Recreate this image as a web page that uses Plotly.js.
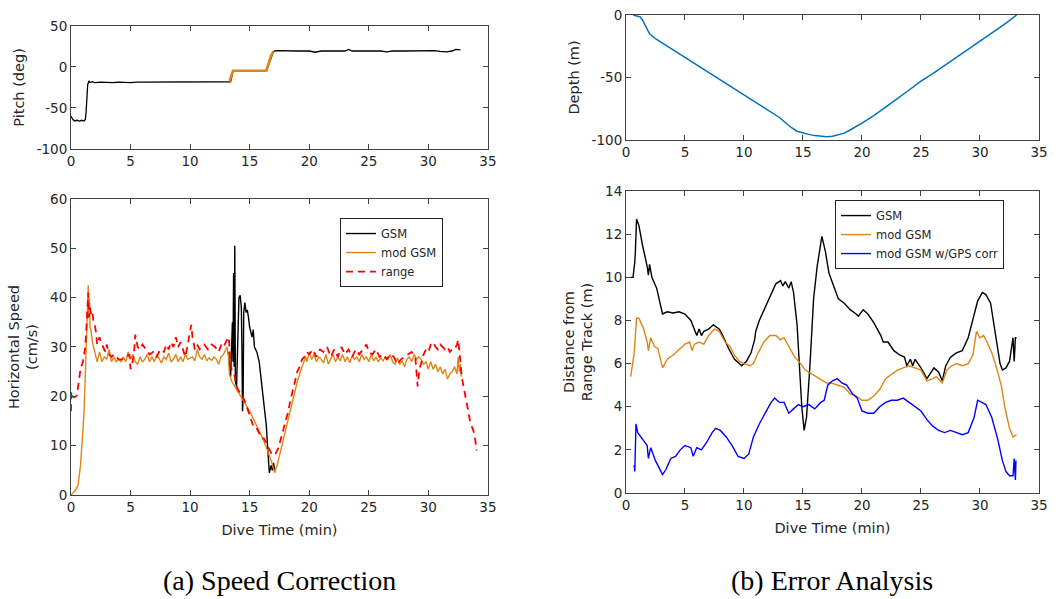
<!DOCTYPE html>
<html><head><meta charset="utf-8">
<script src="https://cdn.plot.ly/plotly-3.0.1.min.js"></script>
<style>html,body{margin:0;padding:0;background:#fff}#chart{width:1064px;height:599px}</style>
</head><body><div id="chart"></div>
<script>
// ---------- Pitch (top-left) ----------
const pitchT = [0,0.15,0.3,0.5,0.7,0.9,1.1,1.2,1.27,1.33,1.4,1.5,1.6,1.8,2.0,2.5,3,3.5,4,4.5,5,5.5,6,7,8,9,10,11,12,13,13.4,13.5,13.6,14,15,16,16.4,16.6,16.8,17.0,17.2,18,19,20,20.5,21,22,23,23.3,23.6,24,25,26,26.5,27,28,29,29.5,30,30.5,31,31.5,32,32.3,32.7];
const pitchGSM = [-60,-64,-66,-65,-66,-65,-66,-64,-55,-35,-22,-17,-19,-18,-19,-18.5,-19,-19,-18.5,-19,-19,-18.5,-18.5,-18.5,-18.5,-18.5,-18.5,-18.5,-18.5,-18.5,-18,-12,-5,-5,-5,-5,-5,3,12,19,20,19.5,19.5,19.5,18,19.5,19.5,19.5,21.5,19.5,19.5,19.5,19.5,18.5,19.5,19.5,19.5,19.5,19.5,20,19,18.5,19.5,21.5,21];
const pitchModT = [13.3,13.45,13.6,14,15,16,16.4,16.6,16.8,17.0];
const pitchMod = [-18,-10,-4.5,-4.5,-4.5,-4.5,-4.5,5,14,19];
const pitchTicks = [-100,-50,0,50];
const pitchTickText = ['-100','-50','0','50'];

// ---------- Horizontal speed (bottom-left) ----------
const spdModT = [0,0.2,0.4,0.6,0.8,1.0,1.1,1.2,1.3,1.4,1.45,1.5,1.55,1.6,1.7,1.8,1.9,
 2.0,2.2,2.4,2.6,2.8,3.0,3.2,3.4,3.6,3.8,4.0,4.2,4.4,4.6,4.8,5.0,5.2,5.4,5.6,5.8,6.0,6.2,6.4,6.6,6.8,7.0,7.2,7.4,7.6,7.8,8.0,8.2,8.4,8.6,8.8,9.0,9.2,9.4,9.6,9.8,10.0,10.2,10.4,10.6,10.8,11.0,11.2,11.4,11.6,11.8,12.0,12.2,12.4,12.6,12.8,13.0,
 13.1,13.2,13.3,13.5,14,14.5,15,15.5,16,16.5,16.8,17.1,17.3,17.6,18,18.5,19,19.4,19.7,
 19.8,20.0,20.2,20.4,20.6,20.8,21.0,21.2,21.4,21.6,21.8,22.0,22.2,22.4,22.6,22.8,23.0,23.2,23.4,23.6,23.8,24.0,24.2,24.4,24.6,24.8,25.0,25.2,25.4,25.6,25.8,26.0,26.2,26.4,26.6,26.8,27.0,27.2,27.4,27.6,27.8,28.0,28.2,28.4,28.6,28.8,29.0,29.2,29.4,29.6,29.8,30.0,30.2,30.4,30.6,30.8,31.0,31.2,31.4,31.6,31.8,32.0,32.2,32.4,32.5,32.6,32.7,32.75];
const spdMod = [0,0.5,1,2,6,13,17,24,30,38,42.5,36,40,34,33,31,30,
 28.5,27,29,27,28,27.5,29.5,27,28,27,27.5,27,28,27,29,27.5,28.5,27,26.5,28,27,27.5,28.5,27,28,27,28.5,27.5,26.8,28,27.5,28.8,27,27.5,28.5,27,28,27,28.5,27.5,27.8,28,27.2,29.5,28,27.5,28.5,27.2,27.8,27.3,28,27.5,26.5,28,28.5,29.5,
 30,28.5,24.5,23,21,19,17,14.5,12,9,7,4.5,6,9,13,18,23,26,28,
 27,29,27.5,28.5,27,28,27.5,26.8,28.5,26.5,27.5,28.5,27,28,27.2,28.5,27,28,26.8,28.2,27.5,28,27,28.5,27.5,28,27,28.5,27.2,28,27,27.8,27.2,28,27.5,28.5,27,26.5,27.8,26.5,27.2,26,27.5,28,27,28.5,27.5,28,27.5,26.5,27,25.5,27,25.5,26.5,25,26,24.5,25.5,23.5,24.5,25,26,24.5,28,25,26.5,24];
const spdGsmT = [13.2,13.4,13.55,13.6,13.65,13.7,13.75,13.8,13.9,14.0,14.1,14.2,14.3,14.35,14.4,14.45,14.5,14.6,14.7,14.8,14.9,15.0,15.2,15.3,15.4,15.6,15.8,16.0,16.2,16.4,16.5,16.6,16.65,16.8,16.9,17.0,17.1];
const spdGsm = [29,24,35,27,45,26,50.5,23,22,35,40,40.5,38,30,17,20,37,39,37,37.5,36,34,32,33.5,30,29,27,23,19,14,10,5,4.5,6,5,6.5,5];
const spdRangeT = [0,0.03,0.1,0.3,0.5,0.6,0.8,1.0,1.1,1.2,1.3,1.4,1.45,1.5,1.6,1.7,1.8,1.9,2.0,2.1,2.2,2.4,2.5,2.7,2.9,3.0,3.2,3.4,3.6,3.8,4.0,4.3,4.6,4.9,5.0,5.1,5.3,5.4,5.6,5.8,6.0,6.3,6.6,6.9,7.2,7.5,7.8,8.0,8.2,8.4,8.6,8.8,9.0,9.2,9.4,9.6,9.8,10.0,10.1,10.2,10.4,10.6,10.8,11.0,11.2,11.5,11.8,12.1,12.4,12.7,12.9,13.1,13.25,13.35,13.5,13.7,13.9,14.1,14.3,14.6,14.9,15.1,15.3,15.5,15.8,16.0,16.2,16.4,16.6,16.8,17.0,17.2,17.4,17.6,17.8,18.0,18.2,18.4,18.6,18.8,19.0,19.2,19.4,19.6,19.8,20.0,20.3,20.6,20.9,21.2,21.5,21.8,22.1,22.4,22.7,23.0,23.3,23.6,23.9,24.2,24.5,24.8,25.0,25.3,25.6,25.9,26.2,26.5,26.8,27.1,27.4,27.7,28.0,28.3,28.6,28.9,29.0,29.1,29.25,29.4,29.6,29.8,30.0,30.2,30.4,30.6,30.8,31.0,31.2,31.4,31.6,31.8,32.0,32.2,32.4,32.5,32.65,32.8,32.95,33.1,33.3,33.5,33.7,33.85,34.0,34.05];
const spdRange = [17,21,20,19.8,20.2,22,25.5,27,29,30,34,39,41,36,38,36.5,37,35,34.5,33,30.5,32,31,30,29,30.5,28.5,28,28.5,28,27.5,27.5,28,28.5,25.5,26,29,32.5,30,29.5,30.5,29.5,28.5,29,28,29.5,29,30.5,29.5,31,30,32,30,31,29.5,28,30.5,33,34.5,32,29.5,30.5,29.5,30,30.5,29.5,30.5,30,29,31,30.5,31.5,32,28,25,24.5,22,21,20.5,19,17,15.5,14,14,12.5,11.5,11.5,10.5,9.5,8.5,8,8.5,9.5,11,13,15,16.5,19,21,23,25,26,27.5,28,29,28.5,29.5,28,29.5,29,30,28,29.5,28,30,28.5,29.5,28,29.5,28.5,29.5,30.5,29,28.5,29.5,28,28.5,27.5,28.5,28,26.5,27.5,28,28.5,29,28,24,22,25.5,27,28.5,29.5,29,30.5,31,30,29.5,30.5,30,29.5,30,29,29.5,29.5,30.5,31.5,28,24,22,20,17,15,13.5,12.5,10,9];

// ---------- Depth (top-right) ----------
const depthT = [0.6,0.8,1.0,1.2,1.4,1.6,1.8,2.0,2.5,3,4,5,6,7,8,9,10,11,12,13,13.5,14,14.5,15,15.5,16,16.5,17,17.5,18,18.5,19,19.5,20,21,22,23,24,25,26,27,28,29,30,31,32,32.5,33.1];
const depth = [0,-0.5,-1,-1.5,-4,-8,-12,-15,-19,-22,-28,-34,-40,-46,-52,-58,-64,-70,-76,-82,-86,-90,-93,-94.5,-95.5,-96.5,-97,-97.5,-97,-96,-94.5,-92,-89.5,-86.5,-80.5,-74,-67,-60,-53,-47,-40.5,-34,-28,-21.5,-15,-8,-4.5,0];
const depthTicks = [-100,-50,0];
const depthTickText = ['-100','-50','0'];

// ---------- Distance from range track (bottom-right) ----------
const distGsmT = [0.4,0.6,0.7,0.75,0.8,0.9,1.1,1.4,1.8,1.9,2.0,2.1,2.2,2.6,2.9,3.1,3.5,4,4.5,5,5.5,5.9,6.0,6.2,6.4,6.6,7.0,7.2,7.4,7.9,8.2,8.7,9.2,9.6,9.8,10.2,10.6,10.9,11.0,11.3,11.8,12.3,12.7,13.1,13.3,13.5,13.8,14.0,14.2,14.5,14.7,14.9,15.1,15.3,15.6,15.9,16.2,16.6,16.9,17.2,17.6,18,18.5,19,19.5,19.7,20.1,20.5,21,21.6,21.8,22.2,22.7,23.2,23.6,23.8,24.1,24.3,24.5,25,25.5,25.9,26.1,26.5,26.8,27.1,27.5,28,28.5,29,29.4,29.8,30.2,30.5,30.9,31.3,31.7,31.9,32.2,32.5,32.8,32.9,33.0,33.1];
const distGsm = [10,10,10.5,10.7,11.2,12.7,12.4,11.5,10.5,10.1,10.6,10.2,10,9.5,8.8,8.3,8.4,8.35,8.4,8.3,8.0,7.5,7.3,7.6,7.3,7.5,7.6,7.7,7.8,7.6,7.3,6.7,6.2,6.0,5.9,6.1,6.5,7.1,7.5,8.0,8.6,9.2,9.7,9.85,9.6,9.8,9.5,9.8,9.3,7.8,6.0,4.0,2.9,3.5,6.0,9.0,10.5,11.9,11.2,10.2,9.6,9.0,8.8,8.5,8.3,8.2,8.5,8.3,7.9,7.3,7.0,7.0,6.6,6.4,6.3,5.9,6.2,5.9,6.2,5.8,5.3,5.6,5.8,5.6,5.2,5.9,6.3,6.5,6.6,7.2,8.0,8.9,9.3,9.2,8.8,7.5,6.0,5.7,5.8,6.1,7.2,6.1,7.2,7.2];
const distModT = [0.4,0.6,0.7,0.9,1.1,1.5,1.8,1.9,2.1,2.4,2.7,3.1,3.5,4,4.6,5,5.4,5.6,5.8,6.2,6.6,7,7.5,7.9,8.4,8.8,9.2,9.6,10,10.5,10.8,11.2,11.7,12.2,12.7,13.1,13.4,13.8,14.3,14.8,15.2,15.8,16.4,17,17.4,18,18.5,19,19.5,20,20.5,21,21.5,22,22.5,23,23.5,24,24.5,25,25.5,26,26.3,26.8,27.2,27.6,28,28.5,29,29.4,29.7,30,30.3,30.6,31.0,31.3,31.8,32.1,32.5,32.8,33.1];
const distMod = [5.4,6.2,6.5,8.1,8.1,7.6,7.0,6.6,7.2,6.8,6.7,5.8,6.2,6.4,6.7,6.9,7.0,6.6,6.9,7.0,6.9,7.3,7.6,7.5,7.0,6.8,6.4,6.1,6.0,5.9,6.0,6.5,7.0,7.3,7.3,7.1,7.2,6.8,6.3,6.0,5.7,5.5,5.3,5.1,5.1,5.0,4.9,4.6,4.5,4.3,4.3,4.5,4.8,5.3,5.5,5.7,5.8,5.9,5.8,5.7,5.2,5.3,5.4,5.1,5.7,5.9,6.0,5.9,6.0,6.4,7.5,7.2,7.3,7.0,6.5,6.0,5.0,4.0,3.0,2.6,2.7];
const distGpsT = [0.7,0.75,0.85,1.0,1.4,1.8,1.9,2.1,2.5,2.8,3.1,3.4,3.8,4.2,4.6,5,5.5,5.7,6,6.4,6.9,7.3,7.6,8.0,8.5,9.0,9.5,10,10.4,10.8,11.3,11.8,12.3,12.6,13,13.4,13.8,14.2,14.6,15,15.5,16,16.5,16.8,17.1,17.5,17.9,18.3,18.7,19.2,19.6,20.0,20.5,21,21.5,22,22.5,23,23.5,24,24.5,25,25.5,26,26.5,27,27.5,28,28.5,29,29.5,29.8,30.2,30.5,31,31.5,31.9,32.2,32.5,32.8,32.9,33.0,33.05];
const distGps = [1.3,1.0,3.2,2.8,2.5,2.2,1.6,2.1,1.5,1.2,0.85,1.1,1.6,1.7,2.0,2.2,2.1,1.7,2.1,2.0,2.4,2.8,3.0,2.9,2.6,2.2,1.7,1.6,1.8,2.6,3.2,3.7,4.2,4.4,4.2,4.2,3.7,3.9,4.1,4.0,4.1,3.9,4.2,4.3,5.0,5.2,5.3,5.1,5.0,4.6,4.4,3.8,3.7,3.7,4.0,4.2,4.3,4.3,4.4,4.2,4.0,3.8,3.4,3.1,2.9,2.8,2.9,2.8,2.7,2.8,3.5,4.3,4.2,4.1,3.5,2.5,1.5,1.0,0.8,0.8,1.6,0.6,1.5];

const xTicks = [0,5,10,15,20,25,30,35];

const ORANGE = 'rgb(222,134,20)';
const TXT = '#262626';
const AX = '#404040';
const TICKFONT = {family:'DejaVu Sans', size:13.5, color:TXT};
const TITLEFONT = {family:'DejaVu Sans', size:14.5, color:TXT};

const traces = [
  {x: pitchT, y: pitchGSM, xaxis:'x', yaxis:'y', mode:'lines', line:{color:'#000', width:1.3}, showlegend:false},
  {x: pitchModT, y: pitchMod, xaxis:'x', yaxis:'y', mode:'lines', line:{color:ORANGE, width:2.6}, showlegend:false},
  {x: spdGsmT, y: spdGsm, xaxis:'x2', yaxis:'y2', mode:'lines', name:'GSM', line:{color:'#000', width:1.4}, legend:'legend'},
  {x: spdModT, y: spdMod, xaxis:'x2', yaxis:'y2', mode:'lines', name:'mod GSM', line:{color:ORANGE, width:1.4}, legend:'legend'},
  {x: spdRangeT, y: spdRange, xaxis:'x2', yaxis:'y2', mode:'lines', name:'range', line:{color:'#ff0000', width:1.8, dash:'7px,5px'}, legend:'legend'},
  {x: depthT, y: depth, xaxis:'x3', yaxis:'y3', mode:'lines', line:{color:'rgb(0,114,189)', width:1.5}, showlegend:false},
  {x: distGsmT, y: distGsm, xaxis:'x4', yaxis:'y4', mode:'lines', name:'GSM', line:{color:'#000', width:1.4}, legend:'legend2'},
  {x: distModT, y: distMod, xaxis:'x4', yaxis:'y4', mode:'lines', name:'mod GSM', line:{color:ORANGE, width:1.4}, legend:'legend2'},
  {x: distGpsT, y: distGps, xaxis:'x4', yaxis:'y4', mode:'lines', name:'mod GSM w/GPS corr', line:{color:'#0000ff', width:1.4}, legend:'legend2'}
];

function xa(domain, anchor, title) {
  const a = {domain: domain, anchor: anchor, range:[0,35], tickvals: xTicks, ticktext: xTicks.map(String),
    ticks:'inside', ticklen:5, tickcolor:AX, showline:true, linecolor:AX, linewidth:1, mirror:'ticks',
    showgrid:false, zeroline:false, tickfont:TICKFONT};
  if (title) a.title = {text:title, font:TITLEFONT, standoff:10};
  return a;
}
function ya(domain, anchor, range, tickvals, ticktext, title) {
  return {domain: domain, anchor: anchor, range: range, tickvals: tickvals, ticktext: ticktext,
    ticks:'inside', ticklen:5, tickcolor:AX, showline:true, linecolor:AX, linewidth:1, mirror:'ticks',
    showgrid:false, zeroline:false, tickfont:TICKFONT,
    title:{text:title, font:TITLEFONT, standoff:8}};
}
const spdTicks = [0,10,20,30,40,50,60];
const distTicks = [0,2,4,6,8,10,12,14];

const layout = {
  width:1064, height:599, margin:{l:0,r:0,t:0,b:0}, paper_bgcolor:'#fff', plot_bgcolor:'#fff',
  xaxis: xa([0.0667,0.4586],'y'),
  yaxis: ya([0.7513,0.9566],'x',[-100,50],pitchTicks,pitchTickText,'Pitch (deg)'),
  xaxis2: xa([0.0667,0.4586],'y2','Dive Time (min)'),
  yaxis2: ya([0.1736,0.6678],'x2',[0,60],spdTicks,spdTicks.map(String),'Horizontal Speed<br>(cm/s)'),
  xaxis3: xa([0.5883,0.9765],'y3'),
  yaxis3: ya([0.7663,0.975],'x3',[-100,0],depthTicks,depthTickText,'Depth (m)'),
  xaxis4: xa([0.5883,0.9765],'y4','Dive Time (min)'),
  yaxis4: ya([0.177,0.681],'x4',[0,14],distTicks,distTicks.map(String),'Distance from<br>Range Track (m)'),
  legend: {x:0.3195, y:0.636, xanchor:'left', yanchor:'top', bgcolor:'#fff', bordercolor:'#222', borderwidth:1,
    font:{family:'DejaVu Sans', size:11.5, color:TXT}, tracegroupgap:0},
  legend2: {x:0.7848, y:0.666, xanchor:'left', yanchor:'top', bgcolor:'#fff', bordercolor:'#222', borderwidth:1,
    font:{family:'DejaVu Sans', size:11.5, color:TXT}, tracegroupgap:0},
  annotations: [
    {text:'(a) Speed Correction', xref:'paper', yref:'paper', x:0.2627, y:1-580/599, xanchor:'center', yanchor:'middle', showarrow:false,
      font:{family:'Liberation Serif', size:28, color:'#000'}},
    {text:'(b) Error Analysis', xref:'paper', yref:'paper', x:0.7824, y:1-580/599, xanchor:'center', yanchor:'middle', showarrow:false,
      font:{family:'Liberation Serif', size:28, color:'#000'}}
  ]
};

Plotly.newPlot('chart', traces, layout, {staticPlot:true, displayModeBar:false});
</script>
</body></html>
